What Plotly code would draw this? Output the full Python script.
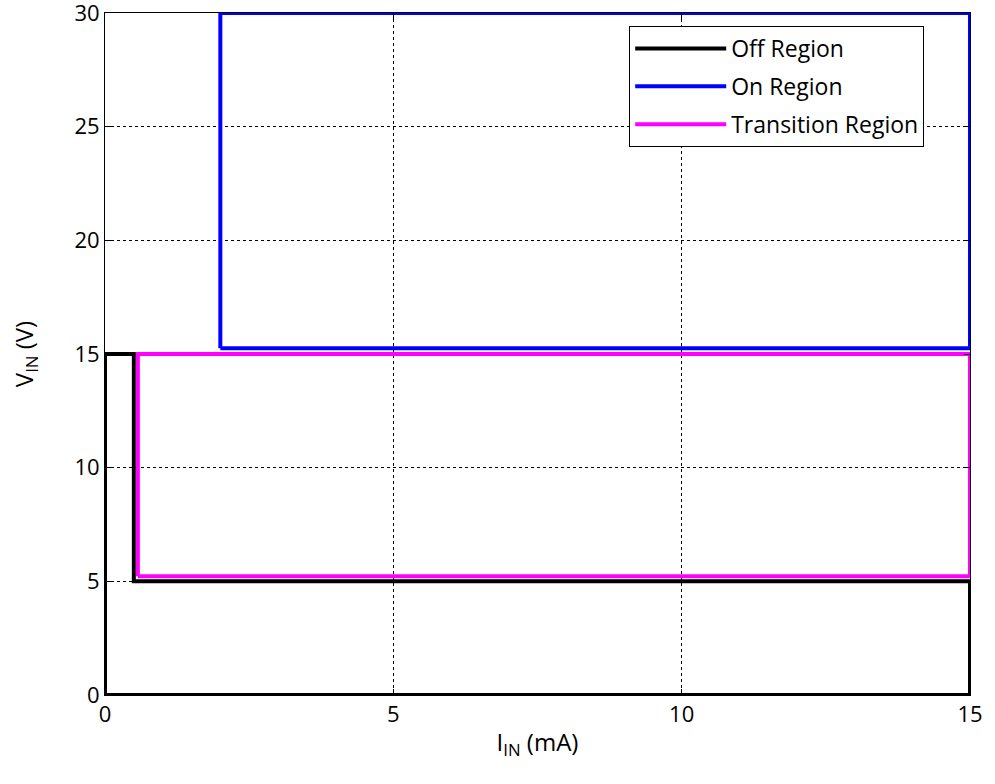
import plotly.graph_objects as go

# Region outlines (I_IN in mA, V_IN in V)
off_x = [0, 0, 0.5, 0.5, 15, 15, 0]
off_y = [0, 15, 15, 5, 5, 0, 0]
on_x = [2, 2, 15, 15, 2]
on_y = [15.25, 30, 30, 15.25, 15.25]
trans_x = [0.57, 0.57, 15, 15, 0.57]
trans_y = [5.22, 15, 15, 5.22, 5.22]

x_ticks = [0, 5, 10, 15]
y_ticks = [0, 5, 10, 15, 20, 25, 30]

FONT = "Open Sans"

fig = go.Figure()
fig.add_trace(go.Scatter(x=off_x, y=off_y, mode="lines", name="Off Region", legendgroup="a",
                         line=dict(color="black", width=4), cliponaxis=False))
fig.add_trace(go.Scatter(x=on_x, y=on_y, mode="lines", name="On Region", legendgroup="b",
                         line=dict(color="#0000ff", width=4), cliponaxis=False))
fig.add_trace(go.Scatter(x=trans_x, y=trans_y, mode="lines", name="Transition Region", legendgroup="c",
                         line=dict(color="#ff00ff", width=4), cliponaxis=False))

axis_common = dict(
    showline=True, linecolor="black", linewidth=1, mirror="ticks",
    ticks="inside", ticklen=6, tickcolor="black",
    showgrid=True, gridcolor="black", gridwidth=1, griddash="dot",
    zeroline=False, automargin=False, ticklabeloverflow="allow",
    tickfont=dict(family=FONT, size=22, color="black"),
)

fig.update_layout(
    width=995, height=784,
    margin=dict(l=105, r=25, t=13, b=89),
    paper_bgcolor="white", plot_bgcolor="white",
    font=dict(family=FONT, color="black"),
    showlegend=True,
    legend=dict(x=0.606, y=0.981, xanchor="left", yanchor="top",
                bordercolor="black", borderwidth=1, bgcolor="white",
                font=dict(family=FONT, size=23, color="black"),
                itemwidth=91, tracegroupgap=5),
)
fig.update_xaxes(range=[0, 15], tickvals=x_ticks,
                 title=dict(text="I<sub>IN</sub> (mA)", font=dict(family=FONT, size=24), standoff=6),
                 **axis_common)
fig.update_yaxes(range=[0, 30], tickvals=y_ticks,
                 title=dict(text="V<sub>IN</sub> (V)", font=dict(family=FONT, size=24), standoff=34),
                 **axis_common)

fig.write_html("out.html", config={"displayModeBar": False},
               post_script="document.body.style.margin='0';")
